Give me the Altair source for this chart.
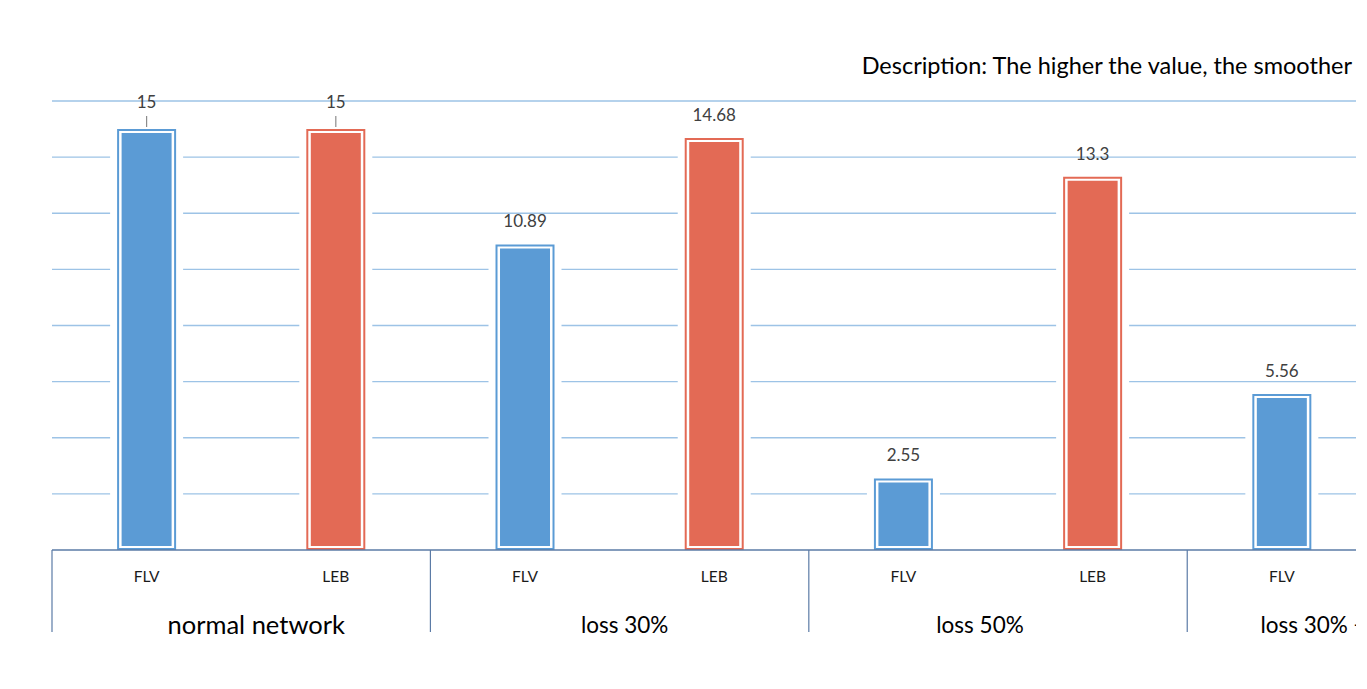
import altair as alt
import pandas as pd

groups = ["normal network", "loss 30%", "loss 50%", "loss 30% +"]
series = ["FLV", "LEB"]
flv_values = [15, 10.89, 2.55, 5.56]
leb_values = [15, 14.68, 13.3]
grid_values = [2, 4, 6, 8, 10, 12, 14, 16]
series_colors = ["#5A9BD5", "#DF6149"]
series_edge = ["#5B9BD5", "#E36A55"]
description = "Description: The higher the value, the smoother"

rows = []
for gi, g in enumerate(groups):
    for si, (s, vals) in enumerate(zip(series, [flv_values, leb_values])):
        if gi < len(vals):
            v = vals[gi]
            rows.append({"group": g, "gi": gi, "series": s,
                         "pos": gi * 2 + si + 0.5, "value": v, "label": f"{v:g}"})
bars = pd.DataFrame(rows)
grp = pd.DataFrame({"group": groups, "gi": list(range(len(groups))),
                    "center": [i * 2 + 1 for i in range(len(groups))]})
seps = pd.DataFrame({"edge": [i * 2 for i in range(len(groups))]})
grid = pd.DataFrame({"g": grid_values, "a": 0.0})

X_MAX = 6.892
FONT = "Lato"
AXIS_COLOR = "#5B7BA6"

xs = alt.Scale(domain=[0, X_MAX], nice=False, zero=False, padding=0)
ys = alt.Scale(domain=[0, 16], nice=False, zero=True, padding=0)
X = alt.X("pos:Q", scale=xs, axis=None)
Yn = alt.Y("value:Q", scale=ys, stack=None, axis=None)

gridlines = alt.Chart(grid).mark_rule(color="#9DC3E6", strokeWidth=1.3).encode(
    x=alt.X("a:Q", scale=xs, axis=None), x2=alt.datum(X_MAX),
    y=alt.Y("g:Q", scale=ys, axis=None))

base = alt.Chart(bars)
backing = base.mark_bar(orient="vertical", size=73, color="white").encode(
    x=X, y=Yn, y2=alt.datum(0))
outer = base.mark_bar(orient="vertical", size=59).encode(
    x=X, y=Yn, y2=alt.datum(0),
    color=alt.Color("series:N", scale=alt.Scale(domain=series, range=series_edge), legend=None))
ring = base.mark_bar(orient="vertical", size=55, color="white", yOffset=2, y2Offset=-2).encode(
    x=X, y=Yn, y2=alt.datum(0))
inner = base.mark_bar(orient="vertical", size=50, yOffset=4, y2Offset=-4).encode(
    x=X, y=Yn, y2=alt.datum(0),
    color=alt.Color("series:N", scale=alt.Scale(domain=series, range=series_colors), legend=None))

leader = base.transform_filter("datum.value >= 15").mark_rule(
    color="#8C8C8C", strokeWidth=1.2, yOffset=-13, y2Offset=-2).encode(
    x=X, y=Yn, y2="value:Q")
labels_hi = base.transform_filter("datum.value >= 15").mark_text(
    dy=-26, font=FONT, fontSize=17, color="#404040").encode(x=X, y=Yn, text="label:N")
labels = base.transform_filter("datum.value < 15").mark_text(
    dy=-22, font=FONT, fontSize=17, color="#404040").encode(x=X, y=Yn, text="label:N")

axis_line = alt.Chart(pd.DataFrame({"a": [0], "b": [X_MAX]})).mark_rule(
    color=AXIS_COLOR, strokeWidth=1.5).encode(
    x=alt.X("a:Q", scale=xs, axis=None), x2="b:Q", y=alt.datum(0))
separators = alt.Chart(seps).mark_rule(color=AXIS_COLOR, strokeWidth=1.2, y2Offset=82).encode(
    x=alt.X("edge:Q", scale=xs, axis=None), y=alt.datum(0), y2=alt.datum(0))

sub_labels = base.mark_text(dy=27, font=FONT, fontSize=15.5, color="#1A1A1A").encode(
    x=X, y=alt.datum(0), text="series:N")


def group_label(flt, size, dx, align="center"):
    return alt.Chart(grp).transform_filter(flt).mark_text(
        dy=76, dx=dx, align=align, font=FONT, fontSize=size, color="black").encode(
        x=alt.X("center:Q", scale=xs, axis=None), y=alt.datum(0), text="group:N")


gl0 = group_label("datum.gi == 0", 25.5, 15)
gl1 = group_label("datum.gi == 1", 22.5, 5)
gl2 = group_label("datum.gi == 2", 22.5, -18)
gl3 = group_label("datum.gi == 3", 22.5, -116, align="left")

chart = alt.layer(
    gridlines, backing, outer, ring, inner, leader, labels_hi, labels,
    axis_line, separators, sub_labels, gl0, gl1, gl2, gl3
).properties(
    width=1304, height=449,
    autosize=alt.AutoSizeParams(type="none"),
    padding={"left": 44, "top": 93, "right": 0, "bottom": 131},
    title=alt.TitleParams(description, anchor="end", frame="group", font=FONT, fontSize=23.5,
                          fontWeight="normal", color="black", offset=16, dx=-4),
).configure(background="white").configure_view(stroke=None)

chart.save("out.html", embed_options={"renderer": "svg", "actions": False})
